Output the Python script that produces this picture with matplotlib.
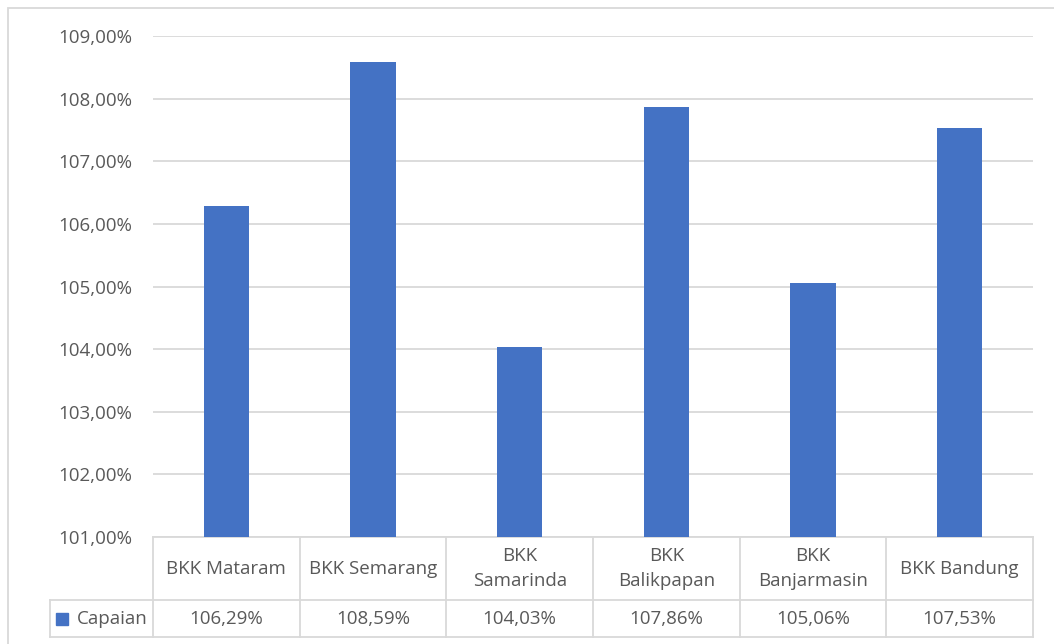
import matplotlib
matplotlib.use("Agg")
import matplotlib.pyplot as plt
from matplotlib.patches import Rectangle
from matplotlib.lines import Line2D

categories = ["BKK Mataram", "BKK Semarang", "BKK\nSamarinda", "BKK\nBalikpapan", "BKK\nBanjarmasin", "BKK Bandung"]
values = [106.29, 108.59, 104.03, 107.86, 105.06, 107.53]
series_name = "Capaian"
yticks = [101, 102, 103, 104, 105, 106, 107, 108, 109]

W, H = 1054, 644
fig = plt.figure(figsize=(W / 100, H / 100), dpi=100)
plt.rcParams['font.family'] = ['Open Sans', 'DejaVu Sans']
TXT = '#595959'
GRID = '#d9d9d9'
BAR = '#4472C4'
FS = 13.5

def fx(px):
    return px / W

def fy(py):
    return 1 - py / H

# outer chart border
fig.patches.append(Rectangle((fx(8), fy(660)), fx(1060) - fx(8), fy(8) - fy(660),
                             transform=fig.transFigure, fill=False, edgecolor=GRID, lw=1.3))

left, right, top, bottom = 153, 1033, 36, 537
ax = fig.add_axes([fx(left), fy(bottom), fx(right) - fx(left), fy(top) - fy(bottom)])
x = list(range(len(categories)))
ax.bar(x, values, width=0.31, color=BAR, zorder=3, bottom=0)
ax.set_xlim(-0.5, len(categories) - 0.5)
ax.set_ylim(yticks[0], yticks[-1])
ax.set_yticks(yticks)
ax.set_yticklabels([f"{v:.2f}%".replace('.', ',') for v in yticks], color=TXT, fontsize=FS)
ax.tick_params(axis='y', length=0, pad=15)
ax.set_xticks([])
for s in ax.spines.values():
    s.set_visible(False)
ax.grid(axis='y', color=GRID, lw=1.3, zorder=0)

# data table
t = ax.get_xaxis_transform()
col_w = (right - left) / len(categories)
hdr_bot = -(600 - bottom) / (bottom - top)
tab_bot = -(637 - bottom) / (bottom - top)
leg_left = -0.5 - (left - 50) / col_w
n = len(categories)

def hline(y, x0, x1):
    ax.add_line(Line2D([x0, x1], [y, y], transform=t, color=GRID, lw=1.3, clip_on=False))

def vline(xv, y0, y1):
    ax.add_line(Line2D([xv, xv], [y0, y1], transform=t, color=GRID, lw=1.3, clip_on=False))

hline(0, -0.5, n - 0.5)
hline(hdr_bot, leg_left, n - 0.5)
hline(tab_bot, leg_left, n - 0.5)
for i in range(n + 1):
    vline(i - 0.5, 0, tab_bot)
vline(leg_left, hdr_bot, tab_bot)

for i, (c, v) in enumerate(zip(categories, values)):
    ax.text(i, hdr_bot / 2, c, transform=t, ha='center', va='center', color=TXT,
            fontsize=FS, linespacing=1.45)
    ax.text(i, (hdr_bot + tab_bot) / 2, f"{v:.2f}%".replace('.', ','), transform=t,
            ha='center', va='center', color=TXT, fontsize=FS)

# legend key in table
ymid = (hdr_bot + tab_bot) / 2
ax.plot([leg_left + 0.08], [ymid], marker='s', markersize=8.5, color=BAR, transform=t, clip_on=False)
ax.text(leg_left + 0.18, ymid, series_name, transform=t, ha='left', va='center', color=TXT, fontsize=FS)

fig.savefig("out.png", dpi=100)
